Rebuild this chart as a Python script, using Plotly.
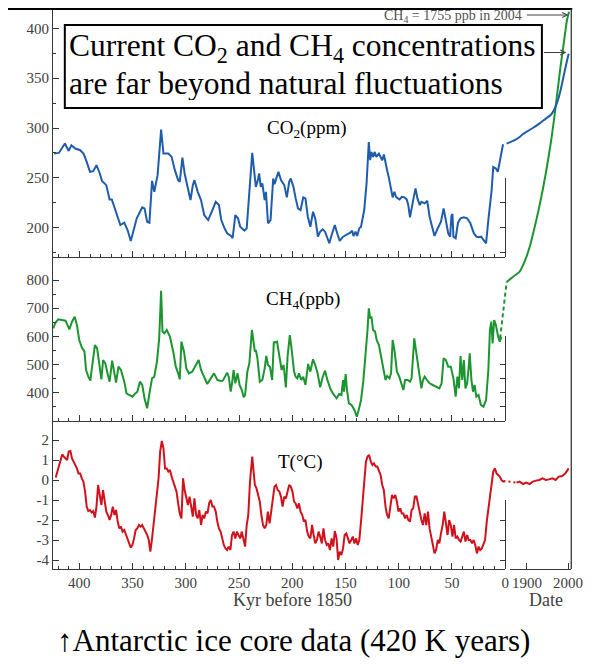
import plotly.graph_objects as go

# ---------------- data ----------------
co2_kyr = [423.8,419.2,413.6,410.0,407.5,403.8,399.2,396.1,393.1,390.0,387.0,383.9,380.8,378.7,374.7,371.6,369.5,367.0,363.9,361.5,
           357.8,354.7,351.7,349.2,346.1,340.9,338.8,336.3,334.2,331.7,329.6,326.5,323.2,321.0,316.4,313.3,310.3,307.2,305.7,303.2,
           301.1,298.0,295.6,293.4,291.9,288.8,285.7,282.7,279.0,275.0,271.9,268.9,266.7,263.6,261.2,257.5,256.0,253.5,251.0,248.9,
           244.9,242.8,240.6,237.6,234.2,232.7,231.1,229.6,228.1,225.9,224.7,222.8,220.4,217.9,
           216.7,213.0,210.6,207.5,205.1,202.9,201.4,198.9,196.8,194.6,
           192.2,189.7,187.6,185.4,183.0,180.5,178.4,175.9,173.8,171.3,
           169.2,167.6,165.2,163.0,160.0,157.8,155.4,152.3,149.2,145.5,
           143.7,142.5,140.6,139.1,137.0,135.4,132.4,130.2,128.1,126.8,
           125.6,124.1,122.5,121.0,118.6,115.5,113.9,112.4,110.9,109.4,
           107.2,105.7,104.1,102.6,100.8,99.2,97.1,94.6,92.5,91.0,
           89.4,87.9,86.4,84.2,82.4,80.2,78.7,75.6,73.2,71.0,
           68.9,66.4,63.3,60.3,57.8,55.7,53.5,51.7,50.5,49.5,
           48.6,46.5,44.3,41.9,38.8,35.7,32.7,29.6,27.1,25.0,
           22.5,20.4,17.9,15.8,13.7,12.7,11.2,8.7,6.9,5.1,3.5,2.0]
co2_ppm = [274.4,275.0,284.4,277.0,282.7,279.4,277.7,274.4,266.0,256.0,256.7,262.7,254.4,247.0,242.7,228.4,228.4,221.0,211.0,202.7,
           205.0,197.7,186.7,196.0,209.4,220.4,219.4,206.0,205.0,247.0,236.0,252.7,298.4,274.4,274.4,271.0,257.7,247.7,246.0,270.4,
           254.4,239.4,227.7,242.7,247.7,236.0,227.7,212.7,207.7,217.7,226.0,222.7,207.7,199.4,194.4,191.7,189.4,212.7,209.4,201.0,
           197.0,199.4,227.7,275.0,241.0,246.0,254.4,241.0,244.4,227.7,236.0,204.4,207.7,249.4,
           243.7,256.0,247.7,242.7,230.4,246.0,249.4,241.0,229.4,219.4,
           217.7,230.4,229.4,211.0,201.0,216.0,209.4,191.0,196.0,198.4,
           196.0,191.0,184.4,192.7,202.7,194.4,186.7,191.0,192.7,195.0,
           197.0,191.7,196.0,191.7,199.4,201.0,217.7,244.4,286.0,267.7,
           276.0,271.0,276.0,271.0,274.4,267.7,273.4,264.4,257.7,251.0,
           236.0,230.4,236.0,231.0,229.4,228.4,231.0,230.4,228.4,222.7,
           210.4,221.0,227.7,239.4,229.4,222.7,226.0,224.4,227.0,211.0,
           201.0,191.7,199.4,206.0,219.4,206.0,194.4,191.0,211.7,213.7,
           191.0,189.4,205.0,209.4,210.4,209.4,204.4,195.0,191.0,190.4,
           191.0,187.7,184.4,207.7,229.4,237.7,261.0,259.4,256.0,266.0,274.4,283.7]

ch4_kyr = [424.5,422.8,419.8,414.6,413.0,409.4,406.9,404.4,402.3,400.1,
           397.7,395.2,393.7,391.6,389.7,387.6,385.4,383.3,380.8,379.3,
           377.7,375.6,373.2,371.6,369.2,367.6,365.5,363.3,360.9,357.8,
           355.7,353.2,350.1,348.0,345.5,343.1,340.9,338.8,336.3,333.9,
           331.7,329.6,327.1,325.0,323.2,321.9,320.1,317.9,314.9,311.8,
           309.4,307.2,305.7,304.1,301.7,299.5,297.1,294.0,291.2,287.9,
           285.7,282.7,279.9,276.5,273.5,270.4,267.3,265.2,261.2,259.7,
           257.8,256.6,255.1,253.5,251.4,249.5,247.4,245.6,244.3,242.2,
           240.3,237.9,235.1,234.2,232.7,230.5,228.1,225.9,224.4,222.8,
           221.0,218.9,217.3,
           216.7,214.3,212.1,210.0,208.1,206.0,204.4,202.3,200.5,198.3,
           196.8,195.2,193.7,191.6,189.7,187.6,185.1,183.0,180.5,178.4,
           176.2,173.8,171.3,169.2,167.0,164.0,161.5,158.4,156.0,153.8,
           152.3,151.4,149.8,148.6,146.8,144.3,141.6,139.4,137.6,135.4,
           133.3,130.8,129.3,128.1,126.8,125.6,124.1,122.2,120.7,118.6,
           117.0,115.5,113.9,112.4,110.9,108.7,107.2,105.7,103.8,101.7,
           99.5,97.7,95.6,94.0,91.6,89.4,87.9,85.4,83.3,81.1,
           78.7,77.2,75.6,73.5,71.0,68.0,64.9,61.8,59.7,57.8,
           55.7,53.5,51.1,48.6,46.5,44.9,43.4,41.9,40.3,38.8,
           37.3,35.7,34.2,33.3,31.7,30.2,28.7,27.1,25.0,22.8,
           20.4,17.9,15.8,14.3,13.0,11.8,10.3,8.7,6.6,5.1,3.5]
ch4_ppb = [628.5,646.2,660.4,658.1,655.7,624.9,652.1,669.9,640.3,587.1,
           561.1,545.7,480.6,457.0,442.8,504.3,569.3,557.5,492.5,447.5,
           516.1,504.3,462.9,439.2,513.7,480.6,435.7,492.5,480.6,439.2,
           397.8,391.9,386.0,395.5,403.7,439.2,427.4,380.1,344.6,403.7,
           451.0,456.9,510.2,593.0,762.1,616.7,610.7,622.6,598.9,545.7,
           492.5,468.8,447.5,581.2,545.7,486.5,468.8,474.7,492.5,516.1,
           480.6,457.0,430.9,451.0,468.8,445.1,441.6,442.8,471.2,457.0,
           403.7,433.3,480.6,433.3,468.8,427.4,409.7,383.6,391.9,474.7,
           504.3,622.6,545.7,551.6,522.0,439.2,445.1,486.5,530.3,498.4,
           492.5,445.1,581.2,
           577.6,581.2,527.9,480.6,498.4,419.1,527.9,604.8,551.6,474.7,
           456.9,451.0,468.8,445.1,456.9,427.4,501.9,474.7,518.5,498.4,
           468.8,419.1,456.9,478.3,445.1,412.0,395.5,380.1,395.5,391.9,
           445.1,403.7,466.4,409.7,362.3,356.4,338.7,315.0,338.7,374.2,
           439.2,539.8,622.6,699.5,664.0,669.9,622.6,616.7,587.1,569.3,
           539.8,504.3,474.7,445.1,459.3,451.0,468.8,587.1,545.7,474.7,
           456.9,433.3,409.7,445.1,445.1,439.2,451.0,593.0,539.8,474.7,
           415.6,445.1,456.9,445.1,433.3,427.4,421.5,415.6,433.3,522.0,
           516.1,492.5,492.5,451.0,386.0,456.9,415.6,530.3,445.1,516.1,
           415.6,433.3,492.5,539.8,445.1,403.7,427.4,386.0,391.9,356.4,
           350.5,374.2,480.6,622.6,652.1,575.3,658.1,640.3,598.9,581.2,598.9]

t_kyr = [422.2,419.8,417.6,416.1,414.6,413.0,411.5,410.0,408.4,406.9,405.4,403.8,402.3,400.8,399.2,397.7,396.2,394.6,393.1,391.6,
         390.0,388.5,387.0,385.4,383.9,382.4,380.8,379.3,377.8,376.2,374.7,373.2,371.6,370.1,368.6,367.0,365.5,364.0,362.4,360.9,
         359.4,357.8,356.3,354.8,353.2,351.7,350.2,348.6,347.1,345.6,344.0,342.5,341.0,339.4,337.9,336.3,334.8,333.3,331.7,330.2,
         328.7,327.1,325.6,324.1,322.5,321.0,319.5,317.9,316.4,314.9,313.3,311.8,310.3,308.7,307.2,305.7,304.1,302.6,301.1,299.5,
         298.0,296.5,294.9,293.4,291.9,290.3,288.8,287.3,285.7,284.2,282.7,281.1,279.6,278.1,276.5,275.0,273.5,271.9,270.4,268.9,
         267.3,265.8,264.3,262.7,261.2,259.7,258.1,256.6,255.1,253.5,252.0,250.5,248.9,247.4,245.9,244.3,242.8,241.3,239.7,238.2,
         237.6,236.0,235.1,233.6,232.1,230.5,229.0,227.5,225.9,224.4,222.9,221.3,219.8,218.3,216.7,215.2,213.7,212.1,210.6,209.1,
         207.5,206.0,204.4,202.9,201.4,199.8,198.3,196.8,195.2,193.7,192.2,190.6,189.1,187.6,186.0,184.5,183.0,181.4,179.9,178.4,
         176.8,175.3,173.8,172.2,170.7,169.2,167.6,166.1,164.6,163.0,161.5,160.0,158.4,156.9,155.4,153.8,152.3,150.8,149.2,147.7,
         146.2,144.6,143.1,141.6,140.0,138.5,137.0,135.4,133.9,132.4,130.8,129.3,127.8,126.2,124.7,123.2,121.6,120.1,118.6,117.0,
         115.5,114.0,112.4,110.9,109.4,107.8,106.3,104.8,103.2,101.7,100.2,98.6,97.1,95.6,94.0,92.5,91.0,89.4,87.9,86.4,
         84.8,83.3,81.8,80.2,78.7,77.2,75.6,74.1,72.5,71.0,69.5,67.9,66.4,64.9,63.3,61.8,60.3,58.7,57.2,55.7,
         54.1,52.6,51.1,49.5,48.0,46.5,44.9,43.4,41.9,40.3,38.8,37.3,35.7,34.2,32.7,31.1,29.6,28.1,26.5,25.0,
         23.5,21.9,20.4,18.9,17.3,15.8,14.3,12.7,11.2,9.7,8.1,6.6,5.1,3.5,2.0,0.5]
t_degc = [0.12,0.58,0.92,1.28,1.17,1.08,1.00,1.42,1.45,1.08,0.92,0.67,0.58,0.33,0.33,0.08,-0.08,-0.58,-1.33,-1.55,
          -1.50,-1.62,-1.55,-1.88,-1.33,-0.25,-0.83,-1.25,-0.50,-1.08,-1.58,-1.75,-2.00,-1.75,-1.33,-1.75,-1.50,-2.08,-2.42,-2.33,
          -2.58,-2.50,-2.75,-3.00,-3.17,-3.38,-3.25,-2.92,-2.50,-2.42,-2.25,-2.33,-2.25,-2.42,-2.58,-2.75,-3.00,-3.58,-2.92,-2.08,
          -1.25,-0.67,0.08,1.42,1.95,1.58,0.58,0.58,0.42,0.50,0.17,-0.08,-0.33,-0.58,-1.17,-1.67,-1.92,0.08,-0.50,-1.00,
          -1.25,-0.83,-1.42,-1.83,-0.92,-1.75,-1.92,-1.50,-2.25,-1.75,-1.92,-1.58,-1.67,-1.17,-1.00,-1.33,-1.33,-1.58,-2.08,-2.42,
          -2.58,-3.00,-3.25,-3.42,-3.50,-3.33,-3.50,-2.75,-2.58,-2.92,-2.58,-2.75,-2.92,-2.58,-3.00,-3.33,-2.25,-1.75,-0.08,0.75,
          1.17,0.25,-0.25,-0.42,-0.83,-1.08,-1.75,-2.25,-2.42,-2.25,-1.58,-2.17,-1.58,-0.92,-0.33,-0.25,-0.50,-0.58,-0.83,-1.33,
          -0.83,-0.92,-0.58,-0.25,-0.33,-0.58,-1.08,-1.17,-1.42,-1.17,-1.58,-1.75,-2.08,-2.00,-2.58,-2.83,-2.92,-2.25,-2.75,-3.17,
          -3.00,-2.58,-2.83,-3.17,-2.42,-3.00,-3.25,-3.17,-3.50,-2.92,-3.33,-2.55,-2.92,-4.00,-3.58,-3.75,-3.42,-2.75,-2.67,-2.92,
          -3.17,-3.00,-2.83,-3.17,-2.92,-3.25,-3.00,-2.08,-1.08,-0.08,0.92,1.17,1.25,0.92,0.75,0.83,0.67,0.67,0.42,0.25,
          -0.25,-0.50,-1.33,-1.75,-1.92,-1.42,-0.75,-0.92,-0.75,-1.08,-1.58,-1.42,-1.67,-1.67,-1.92,-1.75,-2.00,-2.08,-1.50,-1.42,
          -0.83,-0.83,-1.25,-1.58,-2.00,-2.25,-1.67,-2.25,-1.58,-2.42,-2.92,-3.25,-3.67,-3.50,-3.00,-3.17,-2.67,-2.25,-1.58,-2.25,
          -2.75,-2.00,-2.25,-2.83,-2.25,-2.92,-2.83,-3.00,-3.08,-2.83,-2.58,-3.08,-2.75,-3.00,-3.00,-3.17,-3.00,-3.25,-3.67,-3.33,
          -3.50,-3.42,-3.25,-3.00,-2.08,-1.42,-0.75,-0.25,0.42,0.58,0.33,0.25,0.17,0.00,-0.08,-0.08]

# recent (instrumental / firn) records, by calendar year
co2_year = [1850.7,1866.6,1882.5,1890.4,1898.3,1914.2,1930.1,1946.0,1957.9,1965.8,1973.8,1981.7,1989.6,1997.6,2001.6]
co2_recent = [284.4,287.0,291.0,294.0,296.0,300.0,304.4,309.4,313.0,318.0,326.0,337.7,352.7,367.7,374.4]
ch4_year = [1850.7,1866.6,1882.5,1890.4,1898.3,1906.2,1914.2,1930.1,1946.0,1957.9,1965.8,1973.8,1981.7,1989.6,1997.5,2002.5]
ch4_recent = [792.9,811.8,830.0,852.0,880.0,915.0,960.0,1060.1,1178.6,1285.1,1367.8,1462.5,1556.9,1639.9,1722.6,1752.0]
ch4_link_year = [1834.8,1850.7]
ch4_link = [593.0,792.9]
t_year = [1874.5,1882.4,1890.5,1898.3,1906.2,1914.3,1922.1,1930.0,1938.1,1946.0,1953.8,1961.9,1969.8,1977.6,1985.7,1993.6,2001.4]
t_recent = [-0.13,-0.08,-0.20,-0.13,-0.20,-0.08,-0.03,0.00,0.08,0.00,0.03,0.08,0.00,0.17,0.20,0.33,0.58]
t_link_year = [1843.0,1858.0,1874.5]
t_link = [-0.05,-0.10,-0.13]

assert len(co2_kyr) == len(co2_ppm)
assert len(ch4_kyr) == len(ch4_ppb)
assert len(t_kyr) == len(t_degc)

kyr_ticks = [400, 350, 300, 250, 200, 150, 100, 50, 0]
co2_ticks = [200, 250, 300, 350, 400]
ch4_ticks = [400, 500, 600, 700, 800]
t_ticks = [2, 1, 0, -1, -2, -3, -4]
t_ticktext = ["2", "1", "0", "-1", "-2", "-3", "-4"]
date_ticks = [1900, 2000]

# ---------------- styling / geometry ----------------
# the page body adds an 8px offset; positions below are screen pixels
OFF = 8
W, H = 597 - OFF, 665 - OFF
FONT = "Liberation Serif"
BLUE, GREEN, RED = "#1f5cab", "#1c9530", "#d0121c"
AX = "#383838"
TXT = "#404040"


def fx(p):
    return (p - OFF) / W


def fy(p):
    return 1 - (p - OFF) / H


fig = go.Figure()

fig.add_trace(go.Scatter(x=co2_kyr, y=co2_ppm, xaxis="x", yaxis="y", mode="lines",
                         line=dict(color=BLUE, width=2)))
fig.add_trace(go.Scatter(x=ch4_kyr, y=ch4_ppb, xaxis="x2", yaxis="y2", mode="lines",
                         line=dict(color=GREEN, width=2)))
fig.add_trace(go.Scatter(x=t_kyr, y=t_degc, xaxis="x3", yaxis="y3", mode="lines",
                         line=dict(color=RED, width=2)))
fig.add_trace(go.Scatter(x=co2_year, y=co2_recent, xaxis="x4", yaxis="y8", mode="lines",
                         line=dict(color=BLUE, width=2, shape="spline", smoothing=0.6)))
fig.add_trace(go.Scatter(x=ch4_year, y=ch4_recent, xaxis="x4", yaxis="y7", mode="lines",
                         line=dict(color=GREEN, width=2, shape="spline", smoothing=0.6)))
fig.add_trace(go.Scatter(x=ch4_link_year, y=ch4_link, xaxis="x4", yaxis="y7", mode="lines",
                         line=dict(color=GREEN, width=2, dash="4px,3px")))
fig.add_trace(go.Scatter(x=t_year, y=t_recent, xaxis="x4", yaxis="y9", mode="lines",
                         line=dict(color=RED, width=2)))
fig.add_trace(go.Scatter(x=t_link_year, y=t_link, xaxis="x4", yaxis="y9", mode="lines",
                         line=dict(color=RED, width=2, dash="2px,3px")))
for xa, ya in [("x", "y4"), ("x2", "y5"), ("x3", "y6"), ("x5", "y3")]:
    fig.add_trace(go.Scatter(x=[None], y=[None], xaxis=xa, yaxis=ya, mode="lines", hoverinfo="skip"))

tickfont = dict(family=FONT, size=15, color=TXT)
common_x = dict(domain=[fx(54), fx(515.5)], range=[424.7, 0], showline=True, linecolor=AX, linewidth=1.3,
                ticks="inside", tickvals=kyr_ticks, ticklen=6, tickwidth=1.2, tickcolor=AX,
                minor=dict(dtick=10, ticklen=3, ticks="inside", tickcolor=AX, tickwidth=1),
                showgrid=False, zeroline=False, tickfont=tickfont)
ybase = dict(showline=True, linecolor=AX, linewidth=1.3, ticks="inside", ticklen=6, tickwidth=1.2,
             tickcolor=AX, showgrid=False, zeroline=False, tickfont=tickfont)

d_co2 = [fy(257.3), fy(8)]
d_ch4 = [fy(421), fy(257.3)]
d_t = [fy(569), fy(421)]
r_co2 = [170.3, 420.4]
r_ch4 = [299.6, 880.6]
r_t = [-4.45, 2.95]

fig.update_layout(
    width=W, height=H, margin=dict(l=0, r=0, t=0, b=0),
    paper_bgcolor="white", plot_bgcolor="rgba(0,0,0,0)", showlegend=False,
    xaxis=dict(common_x, anchor="y", showticklabels=False),
    xaxis2=dict(common_x, anchor="y2", showticklabels=False),
    xaxis3=dict(common_x, anchor="y3", showticklabels=True),
    yaxis=dict(ybase, domain=d_co2, range=r_co2, anchor="x", tickvals=co2_ticks,
               minor=dict(tickvals=[175, 225, 275, 325, 375], ticklen=3, ticks="inside", tickcolor=AX)),
    yaxis2=dict(ybase, domain=d_ch4, range=r_ch4, anchor="x2", tickvals=ch4_ticks,
                minor=dict(tickvals=[350, 450, 550, 650, 750], ticklen=3, ticks="inside", tickcolor=AX)),
    yaxis3=dict(ybase, domain=d_t, range=r_t, anchor="x3", tickvals=t_ticks, ticktext=t_ticktext),
    yaxis4=dict(ybase, domain=[fy(257.3), fy(177.85)], range=[170.3, 250], anchor="x", side="right",
                tickvals=[175, 200, 225, 250], ticklen=5, showticklabels=False),
    yaxis5=dict(ybase, domain=[fy(421), fy(336.4)], range=[299.6, 600], anchor="x2", side="right",
                tickvals=[350, 400, 450, 500, 600], ticklen=5, showticklabels=False),
    yaxis6=dict(ybase, domain=[fy(569), fy(500)], range=[-4.45, -1], anchor="x3", side="right",
                tickvals=[-4, -3, -2, -1], ticklen=5, showticklabels=False),
    xaxis4=dict(domain=[fx(505), fx(583)], range=[1822.1, 2007.9], visible=False, anchor="y7"),
    yaxis7=dict(domain=[fy(421), fy(8)], range=[299.6, 1765.2], visible=False, anchor="x4"),
    yaxis8=dict(domain=d_co2, range=r_co2, visible=False, anchor="x4"),
    yaxis9=dict(domain=d_t, range=r_t, visible=False, anchor="x4"),
    xaxis5=dict(domain=[fx(520), fx(583)], range=[1857.9, 2007.9], anchor="y3", showline=True,
                linecolor=AX, linewidth=1.3, ticks="inside", tickvals=date_ticks, ticklen=6,
                tickcolor=AX, showgrid=False, zeroline=False, tickfont=tickfont),
)

shapes = [
    dict(type="line", xref="paper", yref="paper", x0=0, x1=fx(584), y0=fy(9), y1=fy(9),
         line=dict(color="black", width=2)),
    dict(type="line", xref="paper", yref="paper", x0=fx(583), x1=fx(583), y0=fy(9), y1=fy(569),
         line=dict(color=AX, width=1.3)),
    dict(type="rect", xref="paper", yref="paper", x0=fx(66), x1=fx(553), y0=fy(25), y1=fy(108),
         line=dict(color="black", width=2), fillcolor="white"),
]
fig.update_layout(shapes=shapes)


def txt(x, y, s, size, color="black", xanchor="center", height=None):
    d = dict(x=fx(x), y=fy(y), xref="paper", yref="paper", text=s, showarrow=False,
             xanchor=xanchor, yanchor="middle", font=dict(family=FONT, size=size, color=color))
    if height is not None:
        d["height"] = height
    return d


ann = [
    txt(68, 48, "Current CO<sub>2</sub> and CH<sub>4</sub> concentrations", 31.5, xanchor="left", height=34),
    txt(68, 83, "are far beyond natural fluctuations", 31.5, xanchor="left", height=34),
    txt(313, 129, "CO<sub>2</sub>(ppm)", 19),
    txt(309, 300, "CH<sub>4</sub>(ppb)", 19),
    txt(307, 462, "T(°C)", 19),
    txt(535, 16, "CH<sub>4</sub> = 1755 ppb in 2004", 14, color="#505050", xanchor="right"),
    txt(298, 600, "Kyr before 1850", 18, color=TXT),
    txt(557, 600, "Date", 18, color=TXT),
    txt(299, 640, "↑Antarctic ice core data (420 K years)", 31),
    dict(x=fx(580), y=fy(15), xref="paper", yref="paper", ax=-43, ay=0, text="", showarrow=True,
         arrowhead=5, arrowsize=1, arrowwidth=1, arrowcolor="#404040"),
    dict(x=fx(578), y=fy(52.5), xref="paper", yref="paper", ax=-24, ay=0, text="", showarrow=True,
         arrowhead=5, arrowsize=1, arrowwidth=1, arrowcolor="#404040"),
]
fig.update_layout(annotations=ann)

fig.write_html("out.html")
